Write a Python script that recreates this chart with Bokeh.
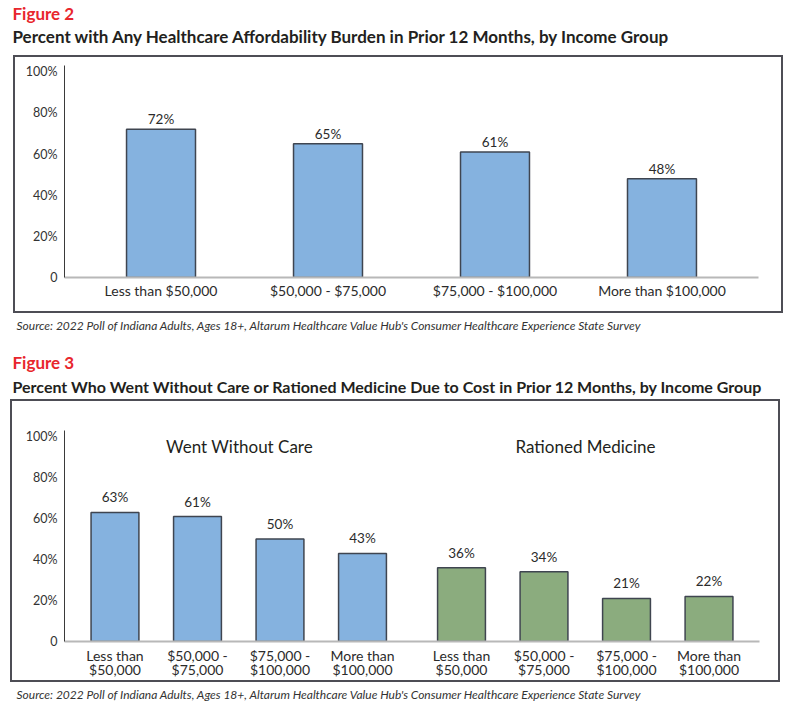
from bokeh.plotting import figure
from bokeh.models import FactorRange, Range1d, Label, ColumnDataSource, FixedTicker, Spacer
from bokeh.layouts import column, row
from bokeh.embed import file_html
from bokeh.resources import INLINE
from bokeh.core.properties import value

# ---------------- data ----------------
fig2_categories = ["Less than $50,000", "$50,000 - $75,000", "$75,000 - $100,000", "More than $100,000"]
fig2_values = [72, 65, 61, 48]

fig3_groups = ["Went Without Care", "Rationed Medicine"]
fig3_categories = ["Less than\n$50,000", "$50,000 -\n$75,000", "$75,000 -\n$100,000", "More than\n$100,000"]
went_without_care = [63, 61, 50, 43]
rationed_medicine = [36, 34, 21, 22]

y_ticks = [0, 20, 40, 60, 80, 100]
y_tick_labels = ["0", "20%", "40%", "60%", "80%", "100%"]

fig2_label = "Figure 2"
fig2_title = "Percent with Any Healthcare Affordability Burden in Prior 12 Months, by Income Group"
fig3_label = "Figure 3"
fig3_title = "Percent Who Went Without Care or Rationed Medicine Due to Cost in Prior 12 Months, by Income Group"
source_note = ("Source: 2022 Poll of Indiana Adults, Ages 18+, Altarum Healthcare Value Hub's "
               "Consumer Healthcare Experience State Survey")

FONT = "Lato"
BLUE = "#85B2DF"
GREEN = "#8BAC7E"
EDGE = "#3F4550"
RED = "#E8262D"
DARK = "#231F20"
BOX_COLOR = "#4D4D55"


def add_text(p, x, y, text, size, color=DARK, style="normal", align="left", baseline="alphabetic"):
    p.add_layout(Label(x=x, y=y, x_units="screen", y_units="screen", text=text,
                       text_font=FONT, text_font_size=size, text_font_style=style,
                       text_color=color, text_align=align, text_baseline=baseline))


def text_panel(height):
    p = figure(width=792, height=height, output_backend="svg", toolbar_location=None,
               x_axis_location=None, y_axis_location=None,
               min_border=0, min_border_left=0, min_border_right=0,
               min_border_top=0, min_border_bottom=0)
    p.outline_line_color = None
    p.grid.grid_line_color = None
    return p


def line(w, h):
    return Spacer(width=w, height=h, styles={"background-color": BOX_COLOR})


def boxed(p, left_gap, w, h):
    return row(Spacer(width=left_gap, height=h + 4),
               line(2, h + 4),
               column(line(w, 2), p, line(w, 2), spacing=0),
               line(2, h + 4), spacing=0)


def style_axes(p):
    p.xgrid.grid_line_color = None
    p.ygrid.grid_line_color = None
    p.outline_line_color = None
    p.yaxis.ticker = FixedTicker(ticks=y_ticks)
    p.yaxis.major_label_overrides = {t: l for t, l in zip(y_ticks, y_tick_labels)}
    p.yaxis.major_tick_line_color = None
    p.yaxis.major_tick_out = 0
    p.yaxis.major_tick_in = 0
    p.yaxis.minor_tick_line_color = None
    p.yaxis.axis_line_color = "#3A3A3A"
    p.yaxis.axis_line_width = 1
    p.yaxis.major_label_text_font = FONT
    p.yaxis.major_label_text_font_size = "12.5px"
    p.yaxis.major_label_text_color = "#333333"
    p.yaxis.major_label_standoff = 7
    p.xaxis.axis_line_color = "#B8B8B8"
    p.xaxis.axis_line_width = 2
    p.xaxis.major_tick_line_color = None
    p.xaxis.major_tick_out = 0
    p.xaxis.major_tick_in = 0
    p.xaxis.minor_tick_line_color = None
    p.xaxis.major_label_text_font = FONT
    p.xaxis.major_label_text_font_size = "14px"
    p.xaxis.major_label_text_color = "#2B2B2B"


# ---------------- header of Figure 2 ----------------
head2 = text_panel(55)
add_text(head2, 12, 42, fig2_label, "17px", RED, "bold")
add_text(head2, 12, 19.5, fig2_title, "17px", DARK, "bold")

# ---------------- Figure 2 chart ----------------
p2 = figure(width=766, height=254,
            x_range=FactorRange(*fig2_categories, range_padding=0.039),
            y_range=Range1d(0, 103),
            output_backend="svg", toolbar_location=None,
            min_border_left=49, min_border_right=23, min_border_top=8, min_border_bottom=34)
style_axes(p2)
p2.xaxis.major_label_standoff = 4

src2 = ColumnDataSource(dict(cat=fig2_categories, val=fig2_values,
                             lab=[f"{v}%" for v in fig2_values]))
p2.vbar(x="cat", top="val", width=0.413, source=src2,
        fill_color=BLUE, line_color=EDGE, line_width=1.5)
p2.text(x="cat", y="val", text="lab", source=src2, y_offset=-10,
        text_align="center", text_baseline="alphabetic",
        text_font=value(FONT), text_font_size="13.5px", text_color="#2B2B2B")

# ---------------- source of Figure 2 + header of Figure 3 ----------------
mid = text_panel(86)
add_text(mid, 16, 74, source_note, "12px", "#333333", "italic")
add_text(mid, 12, 37.5, fig3_label, "17px", RED, "bold")
add_text(mid, 12, 13.5, fig3_title, "16px", DARK, "bold")

# ---------------- Figure 3 chart ----------------
fig3_factors = [(g, c) for g in fig3_groups for c in fig3_categories]
fig3_values = went_without_care + rationed_medicine
fig3_colors = [BLUE] * len(went_without_care) + [GREEN] * len(rationed_medicine)

p3 = figure(width=766, height=279,
            x_range=FactorRange(*fig3_factors, factor_padding=0.0, group_padding=0.2,
                                range_padding=0.0273),
            y_range=Range1d(0, 103),
            output_backend="svg", toolbar_location=None,
            min_border_left=52, min_border_right=19, min_border_top=29, min_border_bottom=39)
style_axes(p3)
p3.xaxis.major_label_standoff = 5
p3.xaxis.major_label_text_line_height = 0.85
p3.xaxis.group_text_color = None
p3.xaxis.separator_line_color = None

src3 = ColumnDataSource(dict(cat=fig3_factors, val=fig3_values, col=fig3_colors,
                             lab=[f"{v}%" for v in fig3_values]))
p3.vbar(x="cat", top="val", width=0.58, source=src3,
        fill_color="col", line_color=EDGE, line_width=1.5)
p3.text(x="cat", y="val", text="lab", source=src3, y_offset=-15,
        text_align="center", text_baseline="alphabetic",
        text_font=value(FONT), text_font_size="13.5px", text_color="#2B2B2B")
add_text(p3, 175, 195, fig3_groups[0], "17px", DARK, "normal", "center", "middle")
add_text(p3, 521, 195, fig3_groups[1], "17px", DARK, "normal", "center", "middle")

# ---------------- source of Figure 3 ----------------
foot = text_panel(30)
add_text(foot, 16, 18, source_note, "12px", "#333333", "italic")

layout = column(head2,
                boxed(p2, 13, 766, 254),
                mid,
                boxed(p3, 10, 766, 279),
                foot, spacing=0)
open("out.html", "w").write(file_html(layout, INLINE))
